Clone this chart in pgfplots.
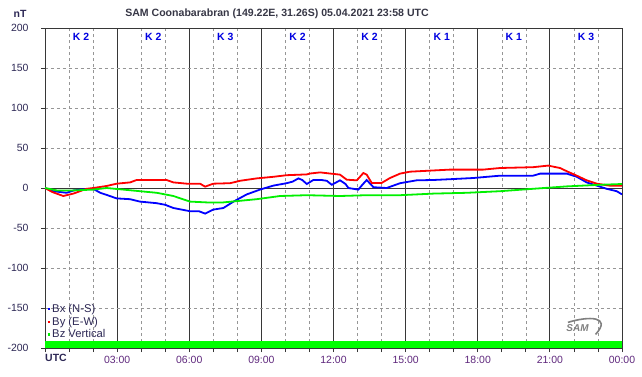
\documentclass[border=0pt]{standalone}
\usepackage{pgfplots}
\pgfplotsset{compat=1.18}
\usepackage{fontspec}
\setmainfont{Liberation Sans}
\definecolor{gridc}{RGB}{150,150,150}
\definecolor{majc}{RGB}{55,55,55}
\definecolor{labc}{RGB}{45,40,85}
\definecolor{xlab}{RGB}{95,40,125}
\definecolor{kblue}{RGB}{0,0,225}
\definecolor{bgreen}{RGB}{0,255,0}
\definecolor{titc}{RGB}{55,55,70}
\definecolor{cbx}{RGB}{0,0,255}
\definecolor{cby}{RGB}{255,0,0}
\definecolor{cbz}{RGB}{0,240,0}
\tikzset{klab/.style={text=kblue, font=\fontsize{10.5}{12}\selectfont\bfseries, fill=white, inner sep=1bp}}
\begin{document}
\begin{tikzpicture}[x=1bp,y=1bp]
\useasboundingbox (0,0) rectangle (642,376);
\fill[white] (0,0) rectangle (642,376);
\begin{axis}[
  at={(45bp,28bp)}, anchor=south west,
  scale only axis, width=577bp, height=320bp,
  xmin=0, xmax=24, ymin=-200, ymax=200,
  xtick={0,3,...,24},
  minor xtick={1,2,4,5,7,8,10,11,13,14,16,17,19,20,22,23},
  xticklabels={,03:00,06:00,09:00,12:00,15:00,18:00,21:00,00:00},
  ytick={-200,-150,...,200},
  /pgf/number format/assume math mode=true,
  yticklabel style={font=\fontsize{10.5}{12}\selectfont, text=labc, xshift=-9bp},
  xticklabel style={font=\fontsize{10.5}{12}\selectfont, text=xlab, yshift=-1bp},
  tick pos=left,
  tick align=outside,
  major tick length=4bp, minor tick length=4bp,
  tick style={majc, line width=0.8bp},
  axis line style={majc, line width=0.9bp},
  xmajorgrids, xminorgrids, ymajorgrids,
  major x grid style={majc, line width=0.8bp},
  minor x grid style={gridc, dashed, line width=0.6bp},
  major y grid style={gridc, dashed, line width=0.6bp},
  legend style={at={(axis cs:0.06,-143.5)}, anchor=north west, draw=none, fill=none,
    font=\fontsize{11.3}{12}\selectfont, text=labc, row sep=1.2bp,
    inner sep=0pt, nodes={inner sep=1bp}},
  legend cell align=left,
  legend image code/.code={\draw[line width=2.2bp] (0bp,0bp) -- (2.4bp,0bp);},
]
\addplot[fill=bgreen, draw=none, forget plot] coordinates {(0,-200) (0,-191) (24,-191) (24,-200)} -- cycle;
\addplot[majc, line width=0.9bp, forget plot] coordinates {(0,0) (24,0)};

\addplot[cbx, line width=1.8bp] coordinates {
(0,0) (0.35,-4) (0.9,-6) (1.2,-3) (1.46,-2) (2.0,-1) (2.3,-6) (2.6,-9) (2.98,-13) (3.54,-14) (3.95,-17) (4.65,-19) (5.0,-21) (5.34,-25) (6.03,-29) (6.4,-29) (6.66,-32) (7.0,-27) (7.42,-25) (7.84,-17) (8.39,-8) (8.94,-2) (9.5,3) (10.05,6) (10.3,8) (10.54,12) (10.7,10) (10.89,5) (11.16,10) (11.5,10) (11.72,9) (11.93,4) (12.27,9.6) (12.5,5) (12.62,0) (13.03,-2) (13.2,4) (13.38,10) (13.66,1) (14.21,0) (14.77,6) (15.46,9.6) (16.15,10) (16.85,11) (17.82,12.5) (18.93,15.4) (20.3,15.4) (20.6,18) (21.7,18) (22.12,14) (22.53,7) (22.95,3) (23.36,-1) (23.78,-4) (24,-8)
};
\addplot[cby, line width=1.8bp] coordinates {
(0,0) (0.3,-5) (0.76,-10) (1.18,-7) (1.73,-1) (2.01,0) (2.56,2.5) (2.98,5.4) (3.54,7) (3.81,10) (5.06,10) (5.34,7) (5.9,5.4) (6.45,5.4) (6.66,1.7) (7.0,5.4) (7.7,6) (8.11,9) (8.8,12) (9.5,14) (10.05,16) (10.89,17) (11.0,18) (11.44,19.5) (12.27,16.7) (12.55,10.4) (12.97,9.6) (13.24,18.7) (13.38,16.7) (13.59,6.3) (14.0,6.3) (14.35,12.5) (14.77,18) (15.18,20.4) (16.85,23) (18.23,23) (18.93,25) (20.3,26) (20.93,28) (21.42,25) (21.7,21) (22.12,15.4) (22.53,9.6) (22.95,5.4) (23.5,2.9) (24,3)
};
\addplot[cbz, line width=1.8bp] coordinates {
(0,0) (0.49,-3) (1.18,-3) (2.0,-2) (2.56,0) (3.26,-2) (3.95,-4) (4.65,-6) (5.34,-10) (6.03,-17) (6.72,-18) (7.42,-18) (8.11,-16) (8.8,-14) (9.78,-10) (10.89,-9) (12.27,-10) (13.38,-9) (14.77,-9) (16.15,-7) (17.54,-6) (18.93,-4) (20.3,-1) (21.7,2) (23.07,4) (24,5)
};
\legend{Bx (N-S), By (E-W), Bz Vertical}

\node[klab] at (axis cs:1.5,188.5) {K 2};
\node[klab] at (axis cs:4.5,188.5) {K 2};
\node[klab] at (axis cs:7.5,188.5) {K 3};
\node[klab] at (axis cs:10.5,188.5) {K 2};
\node[klab] at (axis cs:13.5,188.5) {K 2};
\node[klab] at (axis cs:16.5,188.5) {K 1};
\node[klab] at (axis cs:19.5,188.5) {K 1};
\node[klab] at (axis cs:22.5,188.5) {K 3};
\node[text=gray, font=\fontsize{10}{12}\selectfont\bfseries\itshape, inner sep=0pt] at (axis cs:22.15,-175) {SAM};
\draw[gray, line width=1.6bp] (axis cs:21.75,-168) .. controls (axis cs:22.6,-160) and (axis cs:23.6,-160) .. (axis cs:22.9,-183);
\end{axis}
\node[text=titc, font=\fontsize{10.6}{13}\selectfont\bfseries] at (277,362) {SAM Coonabarabran (149.22E, 31.26S) 05.04.2021 23:58 UTC};
\node[text=labc, font=\fontsize{10.5}{12}\selectfont\bfseries] at (20,362) {nT};
\node[text=labc, font=\fontsize{10.5}{12}\selectfont\bfseries, anchor=west, inner sep=0pt] at (45,18) {UTC};
\end{tikzpicture}
\end{document}
